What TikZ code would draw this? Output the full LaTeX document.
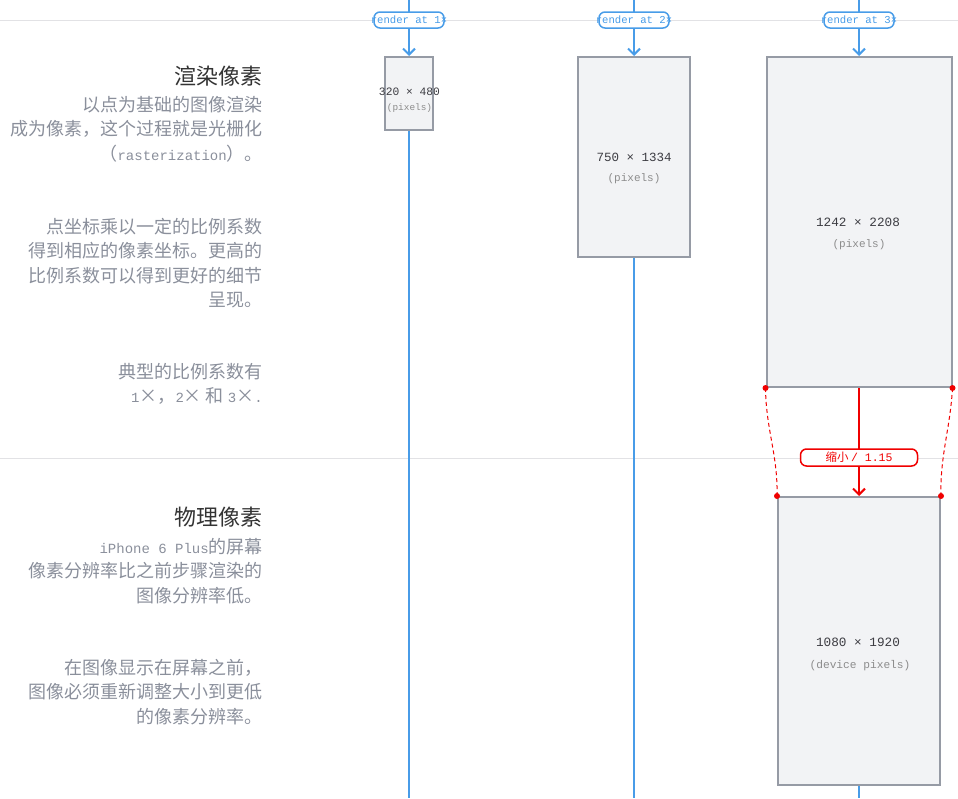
\documentclass[tikz,border=0pt]{standalone}
\usepackage{fontspec}
\setmainfont{Noto Sans CJK SC}
\newfontfamily\lat{Liberation Mono}
\usetikzlibrary{arrows.meta}
\definecolor{lblue}{RGB}{72,156,232}
\definecolor{rred}{RGB}{240,0,0}
\definecolor{bfill}{RGB}{242,243,245}
\definecolor{bdraw}{RGB}{150,155,165}
\definecolor{hline}{RGB}{226,226,229}
\definecolor{ttl}{RGB}{51,51,51}
\definecolor{bodyc}{RGB}{138,143,155}
\definecolor{dimc}{RGB}{60,60,66}
\definecolor{unitc}{RGB}{140,140,140}
\newcommand\lt[1]{{\lat\fontsize{14}{24.5}\selectfont #1}}
\tikzset{
  blueline/.style={draw=lblue, line width=2pt},
  bluearrow/.style={blueline, -{Straight Barb[length=6pt,width=12pt]}},
  redarrow/.style={draw=rred, line width=2pt, -{Straight Barb[length=6pt,width=12pt]}},
  reddash/.style={draw=rred, line width=1pt, dashed, dash pattern=on 4pt off 3pt},
  reddot/.style={fill=rred, circle, inner sep=0pt, minimum size=6pt},
  grayline/.style={draw=hline, line width=1pt},
  box/.style={draw=bdraw, fill=bfill, line width=2pt, inner sep=0pt},
  pill/.style={draw=lblue, fill=white, line width=1.5pt, rounded corners=6pt,
    minimum width=70pt, minimum height=16pt, inner sep=0pt, text=lblue,
    font=\lat\fontsize{10.6}{12}\selectfont},
  redpill/.style={draw=rred, fill=white, line width=1.5pt, rounded corners=6pt,
    minimum width=117pt, minimum height=17pt, inner sep=0pt, text=rred,
    font=\fontsize{11.5}{13}\selectfont},
  title/.style={anchor=east, inner sep=0pt, text=ttl, font=\fontsize{22}{26}\selectfont},
  body/.style={anchor=north east, inner sep=0pt, align=right, text=bodyc,
    font=\fontsize{18}{24.5}\selectfont},
  dim/.style={inner sep=0pt, text=dimc, font=\lat\fontsize{#1}{14}\selectfont},
  unit/.style={inner sep=0pt, text=unitc, font=\lat\fontsize{#1}{14}\selectfont},
}
\begin{document}
\begin{tikzpicture}[x=1pt,y=-1pt]
\useasboundingbox (0,0) rectangle (958,798);
% horizontal separators
\coordinate (hl1) at (0,20); \coordinate (hr1) at (958,20);
\coordinate (hl2) at (0,458); \coordinate (hr2) at (958,458);
\draw[grayline] (hl1) -- (hr1);
\draw[grayline] (hl2) -- (hr2);
% column ends
\coordinate (t1) at (409,0); \coordinate (e1) at (409,798);
\coordinate (t2) at (634,0); \coordinate (e2) at (634,798);
\coordinate (t3) at (859,0); \coordinate (e3) at (859,798);
% boxes
\node[box, minimum width=48pt, minimum height=73pt] (b1) at (409,93.5) {};
\node[box, minimum width=112pt, minimum height=200pt] (b2) at (634,157) {};
\node[box, minimum width=185pt, minimum height=330pt] (b3) at (859,222) {};
\node[box, minimum width=162pt, minimum height=288pt] (b4) at (859,641) {};
% blue lines
\draw[blueline] (t1) -- (409,20);
\draw[blueline] (t2) -- (634,20);
\draw[blueline] (t3) -- (859,20);
% pills
\node[pill] (p1) at (409,20) {\makebox[64pt]{render at 1×}};
\node[pill] (p2) at (634,20) {\makebox[64pt]{render at 2×}};
\node[pill] (p3) at (859,20) {\makebox[64pt]{render at 3×}};
\draw[bluearrow] (p1) -- (b1);
\draw[blueline] (b1) -- (e1);
\draw[bluearrow] (p2) -- (b2);
\draw[blueline] (b2) -- (e2);
\draw[bluearrow] (p3) -- (b3);
\draw[blueline] (b4) -- (e3);
% red scaling
\draw[reddash] (b3.south west) .. controls (766,430) and (778,455) .. (b4.north west);
\draw[reddash] (b3.south east) .. controls (950,430) and (940,455) .. (b4.north east);
\draw[redarrow] (b3.south) -- (b4.north);
\node[redpill] (rp) at (859,457.5) {缩小 {\lat / 1.15}};
\node[reddot] (d1) at (b3.south west) {};
\node[reddot] (d2) at (b3.south east) {};
\node[reddot] (d3) at (b4.north west) {};
\node[reddot] (d4) at (b4.north east) {};
% box texts
\node[dim=11.3] (n1) at (409.5,92) {320 × 480};
\node[unit=9.4] (u1) at (409.5,108) {(pixels)};
\node[dim=12.5] (n2) at (634,157) {750 × 1334};
\node[unit=11] (u2) at (634,179) {(pixels)};
\node[dim=12.7] (n3) at (858,222) {1242 × 2208};
\node[unit=11] (u3) at (859,245) {(pixels)};
\node[dim=12.7] (n4) at (858,642) {1080 × 1920};
\node[unit=11.2] (u4) at (860,666) {(device pixels)};
% left texts
\node[title] (tt1) at (263,76) {渲染像素};
\node[body] (x1) at (263,96) {以点为基础的图像渲染\\成为像素，这个过程就是光栅化\\（\lt{rasterization}）。};
\node[body] (x2) at (263,218) {点坐标乘以一定的比例系数\\得到相应的像素坐标。更高的\\比例系数可以得到更好的细节\\呈现。};
\node[body] (x3) at (263,363) {典型的比例系数有\\\lt{1}×，\lt{2}× 和 \lt{3}×\lt{.}};
\node[title] (tt2) at (263,517) {物理像素};
\node[body] (x4) at (263,538) {\lt{iPhone 6 Plus}的屏幕\\像素分辨率比之前步骤渲染的\\图像分辨率低。};
\node[body] (x5) at (263,659) {在图像显示在屏幕之前，\\图像必须重新调整大小到更低\\的像素分辨率。};
\end{tikzpicture}
\end{document}
